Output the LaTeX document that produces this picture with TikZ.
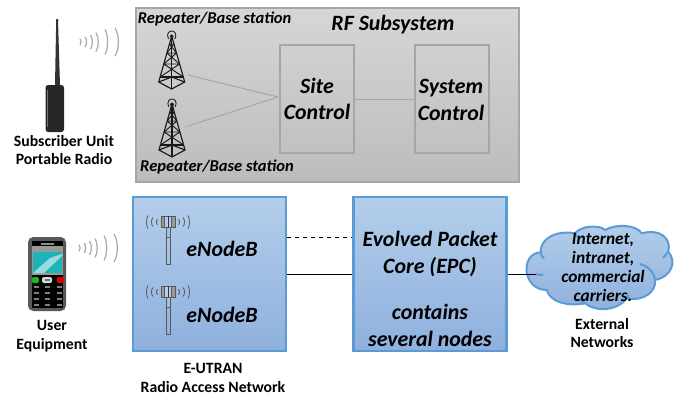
\documentclass[tikz,border=0pt]{standalone}
\usepackage{fontspec}
\setmainfont{Carlito}
\definecolor{rfedge}{HTML}{A6A6A6}
\definecolor{rftop}{HTML}{D6D6D6}
\definecolor{rfbot}{HTML}{BCBCBC}
\definecolor{blueedge}{HTML}{5B9BD5}
\definecolor{bluetop}{HTML}{B3CEEA}
\definecolor{bluebot}{HTML}{8FB0DE}
\definecolor{phonescreen}{HTML}{1CB4B8}

\begin{document}
\begin{tikzpicture}[x=0.75pt,y=-0.75pt]
    \tikzset{RfBox/.style={draw=rfedge, line width=1.7pt, top color=rftop, bottom color=rfbot,
        minimum width=287.25pt, minimum height=130.5pt}}
    \tikzset{CtrlBox/.style={draw=rfedge, line width=1.5pt, minimum width=55.5pt, minimum height=81pt}}
    \tikzset{BlueBox/.style={draw=blueedge, line width=1.9pt, top color=bluetop, bottom color=bluebot,
        minimum width=114.75pt, minimum height=115.5pt}}
    \tikzset{RfLine/.style={draw=rfedge, line width=0.75pt}}
    \tikzset{NetLine/.style={draw=black, line width=0.75pt}}
    \tikzset{Caption/.style={font=\bfseries\fontsize{11.8}{14.2}\selectfont, align=center, inner sep=0pt}}
    \tikzset{SmallLabel/.style={font=\bfseries\itshape\fontsize{12.4}{14}\selectfont, align=center, inner sep=0pt}}
    \tikzset{BigLabel/.style={font=\bfseries\itshape\fontsize{16.4}{20}\selectfont, align=center, inner sep=0pt}}
    \tikzset{
      waves/.pic={
        \foreach \x/\h/\b in {0/3.3/1.5, 5/5/2, 10.5/7/2.5, 16/9.5/3, 25/12.5/3.5, 35/14/4.5}
          \draw[gray!65, line width=0.95pt]
            (\x,-\h) .. controls (\x+\b,-\h/2) and (\x+\b,\h/2) .. (\x,\h);
      },
      tower/.pic={
        \draw[black!85, line width=0.7pt] (-3,3) .. controls (-6,-3) and (-2,-5) .. (0,-5)
            .. controls (2,-5) and (6,-3) .. (3,3);
        \draw[black!85, line width=0.7pt] (-1.5,1.5) .. controls (-2,-1.5) and (2,-1.5) .. (1.5,1.5);
        \draw[black!90, line width=0.85pt] (0,0) -- (-13,46) -- (0,53) -- (13,46) -- cycle;
        \draw[black!90, line width=0.85pt] (0,0) -- (0,53);
        \draw[black!90, line width=0.85pt] (-13,46) -- (0,41) -- (13,46);
        \foreach \ya/\wa/\yb/\wb in {8/2.3/17/4.8, 17/4.8/28/7.9, 28/7.9/41/11.6}
          \draw[black!90, line width=0.7pt]
            (-\wa,\ya) -- (\wa,\ya) (-\wa,\ya) -- (\wb,\yb) (\wa,\ya) -- (-\wb,\yb);
        \draw[black!90, line width=0.85pt] (-11.6,41) -- (11.6,41);
      },
      enbmast/.pic={
        \draw[black!65, fill=blueedge!60, line width=0.6pt] (-2,11) rectangle (2,21);
        \draw[black!65, line width=0.7pt] (-2,21) rectangle (2,48);
        \draw[black!65, fill=black!40, line width=0.6pt] (-7,0) rectangle (7,11);
        \draw[black!65, fill=bluetop, line width=0.6pt] (-3.5,0) rectangle (3.5,11);
        \draw[black!80, line width=0.6pt] (0,0) -- (0,11);
        \foreach \x/\h in {10/2.5, 15/4.5, 20/6.5}{
          \draw[black!65, line width=0.6pt] (-\x,-\h+6) .. controls (-\x-2,3) and (-\x-2,9) .. (-\x,\h+6);
          \draw[black!65, line width=0.6pt] (\x,-\h+6) .. controls (\x+2,3) and (\x+2,9) .. (\x,\h+6);
        }
      }
    }

    \node[RfBox] (rf) at (327.5,95) {};
    \node[CtrlBox] (site) at (317,99) {};
    \node[CtrlBox] (system) at (452,99) {};
    \node[BlueBox] (ran) at (209.5,274) {};
    \node[BlueBox] (epc) at (430,274) {};

    \pic at (171.7,36) {tower};
    \pic at (172,104) {tower};
    \coordinate (towerA) at (188,75);
    \coordinate (towerB) at (185,127);
    \coordinate (sitein) at (278,97);
    \draw[RfLine] (towerA) -- (sitein);
    \draw[RfLine] (towerB) -- (sitein);
    \draw[RfLine] (site.east) -- (system.west);

    \node[SmallLabel] (repA) at (214.6,19) {Repeater/Base station};
    \node[SmallLabel] (repB) at (217,167) {Repeater/Base station};
    \node[font=\bfseries\itshape\fontsize{16.4}{20}\selectfont, inner sep=0pt] (rftitle) at (393,25) {RF Subsystem};
    \node[BigLabel] (sitetext) at (site) {Site\\Control};
    \node[BigLabel] (systemtext) at (451,100) {System\\Control};

    % radio
    \fill[black!80] (56.2,20) -- (58,20) -- (60,85) -- (55,85) -- cycle;
    \fill[black!85] (57.2,20) circle (1.3);
    \fill[black!85, rounded corners=2] (45.5,85) rectangle (64,132);
    \draw[black!55, line width=0.5pt] (47,90) -- (47,127);
    \pic at (80,42) {waves};
    \node[Caption] (radio) at (64,150) {Subscriber Unit\\Portable Radio};

    % phone
    \fill[black!65, rounded corners=4] (28,237) rectangle (66,311);
    \fill[black!40] (32,246) rectangle (63,275);
    \fill[black] (32,241) rectangle (63,246);
    \fill[black!45] (41,243) rectangle (54,244.5);
    \fill[black] (32,275) rectangle (63,308);
    \fill[phonescreen] (33,251.5) rectangle (62,273);
    \fill[white, opacity=0.55] (33,273) -- (44,273) -- (62,256) -- (62,254) -- (50,258) -- cycle;
    \fill[green!70!black!90!white, rounded corners=1.5] (31.7,277) rectangle (39,283);
    \fill[black!15, rounded corners=1.5] (42,277) rectangle (52,283);
    \fill[black!55] (44.5,279) rectangle (49.5,281);
    \fill[red!85!black, rounded corners=1.5] (56.7,277) rectangle (64,283);
    \foreach \y in {287,293,299,305}
      \foreach \x in {36,47,59}
        \fill[black!50] (\x-2.5,\y-0.6) rectangle (\x+2.5,\y+0.6);
    \pic at (79,248) {waves};
    \node[Caption] (user) at (52,336.5) {User\\Equipment};

    \pic at (168,216) {enbmast};
    \pic at (168,286) {enbmast};
    \node[BigLabel] (enbA) at (222,249) {eNodeB};
    \node[BigLabel] (enbB) at (222,315) {eNodeB};
    \node[BigLabel] (epctext) at (430,289) {Evolved Packet\\Core (EPC)\\[14.5pt]contains\\several nodes};

    \coordinate (dashy) at (320,237);
    \draw[NetLine, dashed] (ran.east |- dashy) -- (epc.west |- dashy);
    \draw[NetLine] (ran.east) -- (epc.west);

    % cloud
    \draw[draw=blueedge, line width=1.5pt, top color=bluetop, bottom color=bluebot]
      (540.7,252.3) .. controls (540,238.3) and (556.7,230) .. (575,233.3)
      .. controls (581.7,225) and (600,225) .. (605,230)
      .. controls (616.7,223.3) and (636.7,225) .. (641.7,233.3)
      .. controls (660,228.3) and (671.7,238.3) .. (668.3,251.7)
      .. controls (677,261.7) and (671.7,276.7) .. (655,280)
      .. controls (656.7,291.7) and (643.3,301.7) .. (626.7,298.3)
      .. controls (616.7,311.7) and (595,311.7) .. (585,303.3)
      .. controls (566.7,306.7) and (550,301.7) .. (546.7,290)
      .. controls (522,290) and (520,253) .. (540.7,252.3) -- cycle;
    \draw[draw=blueedge, line width=1.5pt]
      (540.7,252.3) .. controls (541,255) and (542,257) .. (544,258.5)
      (575,233.3) -- (577,237)
      (668.3,251.7) -- (663,258)
      (655,280) .. controls (654,272) and (648,266) .. (640,264)
      (626.7,298.3) -- (628.5,295)
      (585,303.3) -- (580,300)
      (536,274.3) -- (543,275);
    \coordinate (cloudin) at (536,274);
    \draw[NetLine] (epc.east |- cloudin) -- (cloudin);
    \node[font=\bfseries\itshape\fontsize{13}{14.2}\selectfont, align=center, inner sep=0pt] (cloudtext) at (603,267.5)
      {Internet,\\intranet,\\commercial\\carriers.};
    \node[Caption] (external) at (602,333) {External\\Networks};
    \node[Caption] (eutran) at (213,377.5) {E-UTRAN\\Radio Access Network};

    \useasboundingbox (0,0) rectangle (678,397);
\end{tikzpicture}
\end{document}
